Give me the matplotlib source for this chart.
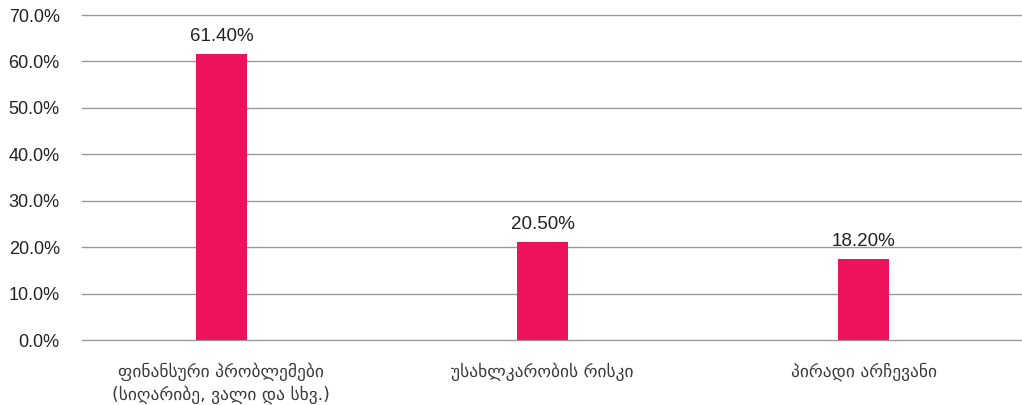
import matplotlib.pyplot as plt
import numpy as np

# data
categories = ['ფინანსური პრობლემები\n(სიღარიბე, ვალი და სხვ.)',
              'უსახლკარობის რისკი',
              'პირადი არჩევანი']
heights = [61.6, 21.2, 17.5]
value_labels = ['61.40%', '20.50%', '18.20%']
yticks = [0, 10, 20, 30, 40, 50, 60, 70]

plt.rcParams['font.family'] = ['Liberation Sans', 'DejaVu Sans']

fig = plt.figure(figsize=(10.22, 4.05), dpi=100)
ax = fig.add_axes([82 / 1022, 1 - 340.3 / 405, 940 / 1022, 325.3 / 405])

x = np.arange(len(categories))
bars = ax.bar(x, heights, width=0.159, color='#ED125B', zorder=3)

for b, lab in zip(bars, value_labels):
    ax.text(b.get_x() + b.get_width() / 2, b.get_height() + 1.9, lab,
            ha='center', va='bottom', fontsize=13.5, color='#222222')

ax.set_xlim(-0.434, 2.492)
ax.set_ylim(0, 70)
ax.set_yticks(yticks)
ax.set_yticklabels([f'{t:.1f}%' for t in yticks], fontsize=13, color='#222222')
ax.set_xticks(x)
ax.set_xticklabels(categories, fontsize=12.5, color='#3a3a3a',
                   family=['DejaVu Sans'], linespacing=1.3)

ax.grid(axis='y', color='#999999', linewidth=1, zorder=0)
for gl in ax.get_ygridlines():
    gl.set_clip_on(False)
ax.tick_params(axis='y', length=0, pad=16)
ax.tick_params(axis='x', length=0, pad=16)
for s in ax.spines.values():
    s.set_visible(False)

fig.savefig('out.png', dpi=100)
